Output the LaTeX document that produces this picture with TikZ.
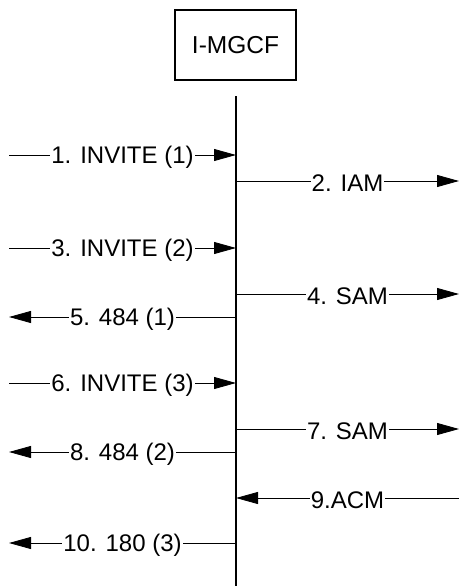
\documentclass[tikz,border=0pt]{standalone}
\usepackage{fontspec}
\setmainfont{Liberation Sans}
\usetikzlibrary{arrows.meta}

\tikzset{
  msg/.style={line width=0.8pt,-{Triangle[length=22pt,width=12pt]}},
  lbl/.style={fill=white,inner sep=1pt,yshift=-2pt,font=\fontsize{24}{28}\selectfont},
  entity/.style={draw,line width=1.2pt,minimum width=121pt,minimum height=70pt,font=\fontsize{24.5}{28}\selectfont}
}

\begin{document}
\begin{tikzpicture}[x=1pt,y=-1pt]
\useasboundingbox (0,0) rectangle (459,586);

\node[entity] (mgcf) at (235.5,45) {I-MGCF};

\coordinate (top) at (236,96);
\coordinate (bot) at (236,586);
\draw[line width=1.6pt] (top) -- (bot);

% left side
\coordinate (a1) at (9,155);   \coordinate (b1) at (236,155);
\coordinate (a3) at (9,248);   \coordinate (b3) at (236,248);
\coordinate (a5) at (9,317);   \coordinate (b5) at (236,317);
\coordinate (a6) at (9,383);   \coordinate (b6) at (236,383);
\coordinate (a8) at (9,452);   \coordinate (b8) at (236,452);
\coordinate (a10) at (9,543);  \coordinate (b10) at (236,543);

% right side
\coordinate (b2) at (236,181); \coordinate (c2) at (459,181);
\coordinate (b4) at (236,294); \coordinate (c4) at (459,294);
\coordinate (b7) at (236,429); \coordinate (c7) at (459,429);
\coordinate (b9) at (236,498); \coordinate (c9) at (459,498);

\draw[msg] (a1) -- (b1) node[midway,lbl] {1. INVITE (1)};
\draw[msg] (b2) -- (c2) node[midway,lbl] {2. IAM};
\draw[msg] (a3) -- (b3) node[midway,lbl] {3. INVITE (2)};
\draw[msg] (b4) -- (c4) node[midway,lbl] {4. SAM};
\draw[msg] (b5) -- (a5) node[midway,lbl] {5. 484 (1)};
\draw[msg] (a6) -- (b6) node[midway,lbl] {6. INVITE (3)};
\draw[msg] (b7) -- (c7) node[midway,lbl] {7. SAM};
\draw[msg] (b8) -- (a8) node[midway,lbl] {8. 484 (2)};
\draw[msg] (c9) -- (b9) node[midway,lbl] {9.ACM};
\draw[msg] (b10) -- (a10) node[midway,lbl] {10. 180 (3)};

\end{tikzpicture}
\end{document}
